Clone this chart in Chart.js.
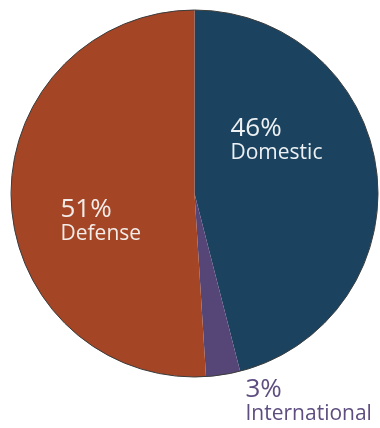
<!DOCTYPE html>
<html>
<head>
<meta charset="utf-8">
<script src="https://cdn.jsdelivr.net/npm/chart.js@4.4.1/dist/chart.umd.min.js"></script>
<style>
  html, body { margin: 0; padding: 0; background: #fff; }
  #wrap { width: 380px; height: 428px; position: relative; }
</style>
</head>
<body>
<div id="wrap"><canvas id="budgetPie"></canvas></div>
<script>
// chart data
var categories = ['Domestic', 'International', 'Defense'];
var shares = [46, 3, 51];
var sliceColors = ['#1b435f', '#564677', '#a44526'];

// label placement, offsets from pie centre (px)
var labelSpots = [
    { dx: 36, dy: -58, color: '#eef1f3' },
    { dx: 51, dy: 203, color: '#5e4e80' },
    { dx: -134, dy: 23, color: '#f3ece8' }
];

var pieLabels = {
    id: 'pieLabels',
    afterDatasetsDraw: function(chart) {
        var ctx = chart.ctx;
        var arcs = chart.getDatasetMeta(0).data;
        var cx = arcs[0].x, cy = arcs[0].y, r = arcs[0].outerRadius;

        // thin outline round the pie
        ctx.save();
        ctx.beginPath();
        ctx.arc(cx, cy, r, 0, Math.PI * 2);
        ctx.strokeStyle = '#3c3c3c';
        ctx.lineWidth = 1;
        ctx.stroke();

        ctx.textAlign = 'left';
        ctx.textBaseline = 'alphabetic';
        for (var i = 0; i < categories.length; i++) {
            var s = labelSpots[i];
            ctx.fillStyle = s.color;
            ctx.font = '26px "Open Sans"';
            ctx.fillText(shares[i] + '%', cx + s.dx, cy + s.dy);
            ctx.font = '21px "Open Sans"';
            ctx.fillText(categories[i], cx + s.dx, cy + s.dy + 23);
        }
        ctx.restore();
    }
};

var ctx1 = document.getElementById('budgetPie').getContext('2d');
var budgetPie = new Chart(ctx1, {
    type: 'pie',
    data: {
        labels: categories,
        datasets: [{
            data: shares,
            backgroundColor: sliceColors,
            borderWidth: 0
        }]
    },
    options: {
        responsive: true,
        maintainAspectRatio: false,
        animation: false,
        layout: { padding: { left: 11, right: 2, top: 10, bottom: 51 } },
        plugins: {
            legend: { display: false },
            tooltip: { enabled: false }
        }
    },
    plugins: [pieLabels]
});
</script>
</body>
</html>
